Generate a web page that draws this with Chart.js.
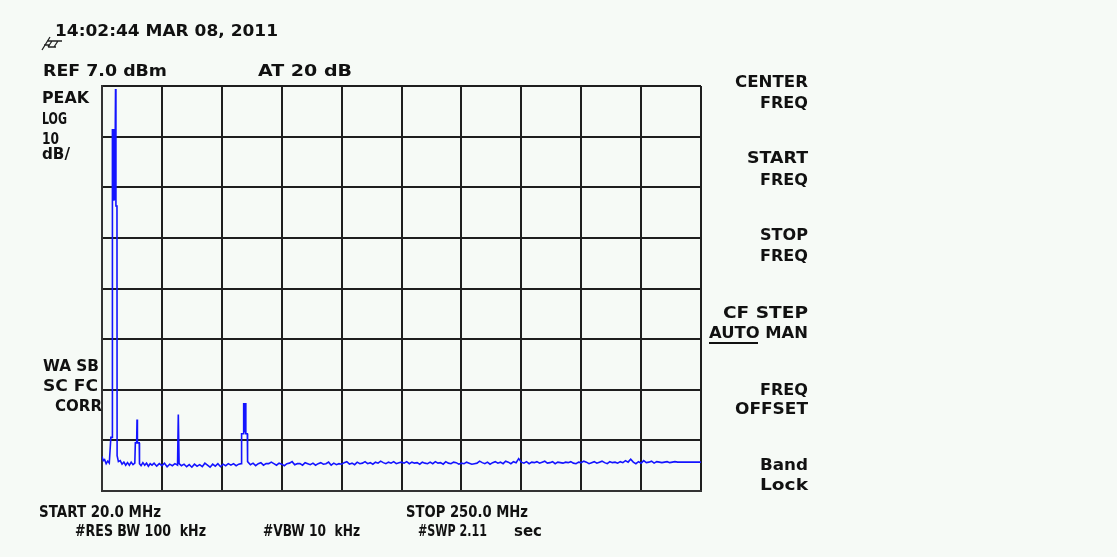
<!DOCTYPE html>
<html>
<head>
<meta charset="utf-8">
<script src="https://cdn.jsdelivr.net/npm/chart.js@4/dist/chart.umd.min.js"></script>
<style>
  body { margin: 0; background: #f6faf6; }
  canvas { display: block; }
</style>
</head>
<body>
<canvas id="spec" width="1117" height="557"></canvas>
<script>
// sweep settings (MHz / dBm)
const startFreq = 20
const stopFreq = 250
const refLevel = 7
const bottomLevel = -73

// trace: frequency (MHz) and level (dBm)
const freqs = [
    20.0, 20.5, 21.0, 21.6, 22.2, 22.8, 23.4, 23.9, 24.0, 24.3,
    24.6, 24.9, 25.2, 25.35, 25.75, 25.8, 26.3, 27.0, 27.7, 28.4,
    29.1, 29.8, 30.5, 31.2, 31.9, 32.6, 32.8, 33.3, 33.45, 33.6,
    34.3, 34.4, 35.0, 35.7, 36.4, 37.1, 37.8, 38.5, 39.2, 40.0,
    41.0, 42.0, 43.0, 44.0, 45.0, 46.0, 47.0, 48.0, 49.0, 49.3,
    49.6, 50.5, 51.5, 52.5, 53.5, 54.5, 55.5, 56.5, 57.5, 58.5,
    59.5, 60.5, 61.5, 62.5, 63.5, 64.5, 65.5, 66.5, 67.5, 68.5,
    69.5, 70.5, 71.5, 72.5, 73.4, 73.6, 74.2, 74.3, 74.5, 74.7,
    74.95, 75.2, 75.25, 75.8, 75.9,
    77, 78, 79, 80, 81, 82, 83, 84, 85,
    86, 87, 88, 89, 90, 91, 92, 93, 94, 95,
    96, 97, 98, 99, 100, 101, 102, 103, 104, 105,
    106, 107, 108, 109, 110, 111, 112, 113, 114, 115,
    116, 117, 118, 119, 120, 121, 122, 123, 124, 125,
    126, 127, 128, 129, 130, 131, 132, 133, 134, 135,
    136, 137, 138, 139, 140, 141, 142, 143, 144, 145,
    146, 147, 148, 149, 150, 151, 152, 153, 154, 155,
    156, 157, 158, 159, 160, 161, 162, 163, 164, 165,
    166, 167, 168, 169, 170, 171, 172, 173, 174, 175,
    176, 177, 178, 179, 180, 181, 182, 183, 184, 185,
    186, 187, 188, 189, 190, 191, 192, 193, 194, 195,
    196, 197, 198, 199, 200, 201, 202, 203, 204, 205,
    206, 207, 208, 209, 210, 211, 212, 213, 214, 215,
    216, 217, 218, 219, 220, 221, 222, 223, 224, 225,
    226, 227, 228, 229, 230, 231, 232, 233, 234, 235,
    236, 237, 238, 239, 240, 241, 242, 243, 244, 245,
    246, 247, 248, 249, 250
]
const levels = [
    -66.2, -67.0, -66.8, -67.6, -67.1, -67.5, -62.4, -62.4, -1.5, -15.5,
    -1.5, -15.5, 6.4, -16.7, -16.7, -66.0, -67.2, -67.0, -67.7, -67.3,
    -67.9, -67.4, -67.9, -67.3, -67.8, -67.5, -63.5, -63.5, -58.9, -63.5,
    -63.5, -67.6, -68.0, -67.4, -67.9, -67.5, -68.1, -67.6, -67.9, -67.5,
    -68.1, -67.6, -68.0, -67.5, -68.2, -67.7, -68.0, -67.6, -67.9, -57.9,
    -67.6, -68.0, -67.7, -68.2, -67.8, -68.3, -67.7, -68.1, -67.8, -68.2,
    -67.5, -67.9, -68.3, -67.7, -68.1, -67.6, -68.2, -67.7, -68.0, -67.6,
    -67.9, -67.6, -68.0, -67.7, -67.6, -61.7, -61.7, -55.6, -61.0, -55.6,
    -61.0, -55.6, -61.7, -61.7, -67.2,
    -67.8, -67.5, -68.0, -67.6, -67.4, -67.9, -67.6, -67.6, -67.3,
    -67.6, -67.9, -67.5, -67.7, -68.0, -67.6, -67.5, -67.2, -67.8, -67.6,
    -67.6, -67.9, -67.4, -67.6, -67.8, -67.5, -67.9, -67.6, -67.4, -67.7,
    -67.6, -67.3, -67.9, -67.5, -67.8, -67.6, -67.7, -67.4, -67.2, -67.7,
    -67.5, -67.8, -67.3, -67.6, -67.5, -67.2, -67.6, -67.4, -67.7, -67.3,
    -67.5, -67.1, -67.4, -67.6, -67.3, -67.5, -67.2, -67.6, -67.4, -67.3,
    -67.5, -67.2, -67.6, -67.3, -67.5, -67.4, -67.7, -67.3, -67.5, -67.6,
    -67.3, -67.6, -67.2, -67.5, -67.4, -67.7, -67.2, -67.5, -67.6, -67.3,
    -67.4, -67.7, -67.5, -67.6, -67.3, -67.5, -67.7, -67.6, -67.5, -67.1,
    -67.4, -67.6, -67.3, -67.7, -67.4, -67.2, -67.5, -67.3, -67.6, -67.1,
    -67.3, -67.6, -67.2, -67.4, -66.6, -67.3, -67.5, -67.2, -67.6, -67.3,
    -67.4, -67.2, -67.5, -67.3, -67.1, -67.5, -67.4, -67.2, -67.6, -67.3,
    -67.4, -67.5, -67.3, -67.4, -67.2, -67.5, -67.6, -67.3, -67.4, -67.1,
    -67.3, -67.6, -67.4, -67.2, -67.5, -67.3, -67.1, -67.4, -67.6, -67.2,
    -67.4, -67.3, -67.5, -67.2, -67.4, -67.0, -67.3, -66.7, -67.3, -67.6,
    -67.2, -67.5, -67.0, -67.4, -67.3, -67.1, -67.5, -67.2, -67.3, -67.4,
    -67.3, -67.2, -67.4, -67.3, -67.2, -67.3, -67.3, -67.3, -67.3, -67.3,
    -67.3, -67.3, -67.3, -67.3, -67.3
]

// screen annotations: text, x, baseline, width, align
const labels = [
    ['14:02:44 MAR 08, 2011', 55, 36, 223, 'left'],
    ['REF 7.0 dBm', 43, 76, 124, 'left'],
    ['AT 20 dB', 258, 76, 94, 'left'],
    ['PEAK', 42, 103, 47, 'left'],
    ['LOG', 42, 124, 25, 'left'],
    ['10', 42, 144, 17, 'left'],
    ['dB/', 42, 159, 28, 'left'],
    ['WA SB', 43, 371, 56, 'left'],
    ['SC FC', 43, 391, 55, 'left'],
    ['CORR', 55, 411, 47, 'left'],
    ['START 20.0 MHz', 39, 517, 122, 'left'],
    ['STOP 250.0 MHz', 406, 517, 122, 'left'],
    ['#RES BW 100  kHz', 75, 536, 131, 'left'],
    ['#VBW 10  kHz', 263, 536, 97, 'left'],
    ['#SWP 2.11', 418, 536, 69, 'left'],
    ['sec', 514, 536, 28, 'left'],
    ['CENTER', 808, 87, 73, 'right'],
    ['FREQ', 808, 108, 48, 'right'],
    ['START', 808, 163, 61, 'right'],
    ['FREQ', 808, 185, 48, 'right'],
    ['STOP', 808, 240, 48, 'right'],
    ['FREQ', 808, 261, 48, 'right'],
    ['CF STEP', 808, 318, 85, 'right'],
    ['AUTO MAN', 808, 338, 99, 'right'],
    ['FREQ', 808, 395, 48, 'right'],
    ['OFFSET', 808, 414, 73, 'right'],
    ['Band', 808, 470, 48, 'right'],
    ['Lock', 808, 490, 48, 'right']
]

function fitText(ctx, s, x, y, w, align) {
    ctx.save()
    const m = ctx.measureText(s).width
    ctx.translate(x, y)
    ctx.scale(w / m, 1)
    ctx.textAlign = 'left'
    ctx.fillText(s, align === 'right' ? -m : 0, 0)
    ctx.restore()
}

const screenText = {
    id: 'screenText',
    afterDraw(chart) {
        const ctx = chart.ctx
        ctx.save()
        ctx.fillStyle = '#111'
        ctx.font = 'bold 15px "DejaVu Sans"'
        ctx.textBaseline = 'alphabetic'
        labels.forEach(l => fitText(ctx, l[0], l[1], l[2], l[3], l[4]))
        // underline under AUTO
        ctx.fillRect(709, 342, 49, 2)
        // little logo under the clock
        ctx.strokeStyle = '#222'
        ctx.lineWidth = 1.3
        ctx.beginPath()
        ctx.moveTo(42, 50); ctx.lineTo(50, 37)
        ctx.moveTo(47, 41); ctx.lineTo(62, 41)
        ctx.moveTo(52, 41); ctx.lineTo(48, 47)
        ctx.moveTo(58, 41); ctx.lineTo(54, 47)
        ctx.moveTo(48, 47); ctx.lineTo(56, 47)
        ctx.moveTo(44, 45); ctx.lineTo(50, 45)
        ctx.stroke()
        ctx.restore()
    }
}

const points = freqs.map((f, i) => ({ x: f, y: levels[i] }))

new Chart(document.getElementById('spec'), {
    type: 'line',
    data: {
        datasets: [{
            label: 'trace',
            data: points,
            borderColor: '#1414ff',
            borderWidth: 1.6,
            pointRadius: 0,
            tension: 0,
            fill: false
        }]
    },
    options: {
        responsive: false,
        animation: false,
        layout: { padding: { left: 102, top: 86, right: 416, bottom: 66 } },
        plugins: { legend: { display: false }, tooltip: { enabled: false } },
        scales: {
            x: {
                type: 'linear',
                min: startFreq,
                max: stopFreq,
                ticks: { display: false, stepSize: 23 },
                grid: { color: '#1e1e1e', lineWidth: 2, drawTicks: false },
                border: { color: '#333', width: 2 }
            },
            y: {
                min: bottomLevel,
                max: refLevel,
                ticks: { display: false, stepSize: 10 },
                grid: { color: '#1e1e1e', lineWidth: 2, drawTicks: false },
                border: { color: '#333', width: 2 }
            }
        }
    },
    plugins: [screenText]
});
</script>
</body>
</html>
